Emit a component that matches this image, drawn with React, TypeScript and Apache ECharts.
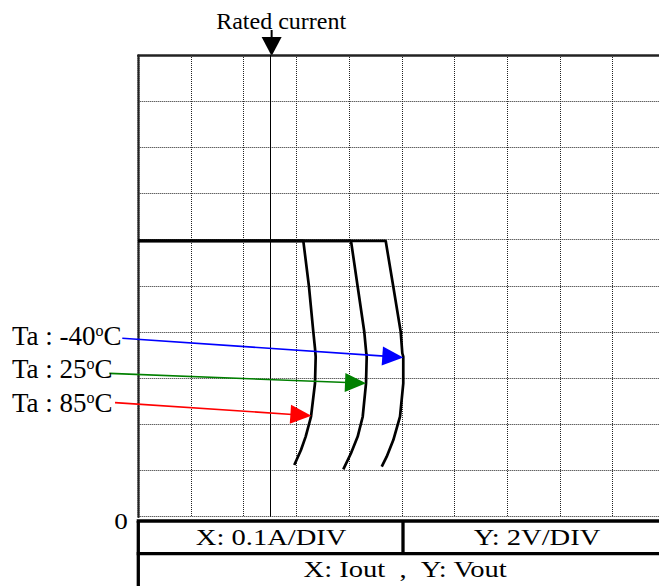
import React, { useEffect, useRef } from 'react';
import * as echarts from 'echarts';

const FONT = '"Liberation Serif", "Times New Roman", serif';

// Axis scale: X 0.1 A/DIV, Y 2 V/DIV
const xDivision = 0.1;
const yDivision = 2;
const xMax = 1.0;
const yMax = 20;

const ratedCurrent = 0.253;
const flatVoltage = 11.95;

// Iout (A), Vout (V) for each ambient temperature
const curveMinus40: number[][] = [
  [0.4694, 11.95], [0.4839, 9.96], [0.4979, 8.01], [0.501, 7.08], [0.5028, 6.93],
  [0.5028, 5.78], [0.4966, 4.33], [0.4839, 3.32], [0.4713, 2.6], [0.4619, 2.17],
];
const curve25: number[][] = [
  [0.4036, 11.95], [0.4163, 9.96], [0.4288, 8.01], [0.4326, 7.08], [0.4334, 6.93],
  [0.4321, 5.78], [0.4258, 4.33], [0.4163, 3.47], [0.4036, 2.75], [0.389, 2.05],
];
const curve85: number[][] = [
  [0.3131, 11.95], [0.3239, 9.96], [0.3321, 8.01], [0.3353, 7.29], [0.3366, 6.93],
  [0.3353, 5.78], [0.3277, 4.33], [0.3176, 3.47], [0.3087, 2.89], [0.296, 2.24],
];

const tempLabels = ['-40', '25', '85'];
const arrowColors = ['#0000ff', '#008000', '#ff0000'];
// arrow start (near label) and tip (on curve), in data coordinates
const arrowStarts: number[][] = [[-0.0304, 7.73], [-0.055, 6.21], [-0.0442, 4.94]];
const arrowTips: number[][] = [[0.5028, 6.9], [0.4321, 5.78], [0.3284, 4.375]];

const xAxisText = 'X: 0.1A/DIV';
const yAxisText = 'Y: 2V/DIV';
const axesText = 'X: Iout\u00a0\u00a0,\u00a0\u00a0Y: Vout';

export default function App() {
  const ref = useRef<HTMLDivElement>(null);

  useEffect(() => {
    document.body.style.margin = '0';
    const chart = echarts.init(ref.current!, null, { renderer: 'svg' });

    const withFlat = (c: number[][]) => [[0, flatVoltage], ...c];
    const curves = [curveMinus40, curve25, curve85];

    const gridLine = { show: true, lineStyle: { color: '#222', width: 1, type: [1, 1] as any } };

    chart.setOption({
      animation: false,
      backgroundColor: '#ffffff',
      grid: { left: 138.3, top: 55, width: 527, height: 461.7, outerBoundsMode: 'none' },
      xAxis: [
        {
          type: 'value', min: 0, max: xMax, interval: xDivision,
          axisLine: { show: false }, axisTick: { show: false }, axisLabel: { show: false },
          splitLine: gridLine,
        },
        {
          type: 'value', position: 'top', min: 0, max: xMax, interval: xDivision,
          axisLine: { show: true, lineStyle: { color: '#222', width: 2.5, type: [1, 1] } },
          axisTick: { show: false }, axisLabel: { show: false }, splitLine: { show: false },
        },
      ],
      yAxis: {
        type: 'value', min: 0, max: yMax, interval: yDivision,
        axisLine: { show: true, lineStyle: { color: '#222', width: 2.5, type: [1, 1] } },
        axisTick: { show: false }, axisLabel: { show: false },
        splitLine: gridLine,
      },
      series: curves.map((c, i) => ({
        type: 'line',
        name: tempLabels[i],
        data: withFlat(c),
        showSymbol: false,
        symbol: 'none',
        smooth: false,
        lineStyle: { color: '#000', width: 2.7 },
        clip: false,
        z: 3,
        markLine: i === 0 ? {
          silent: true,
          symbol: ['none', 'none'],
          label: { show: false },
          lineStyle: { color: '#000', width: 1, type: 'solid' },
          data: [{ xAxis: ratedCurrent }],
        } : undefined,
      })),
    });

    const px = (x: number, y: number) => chart.convertToPixel({ gridIndex: 0 }, [x, y]) as number[];
    const graphics: any[] = [];

    // Rated current arrow and label
    const [rx, ry] = px(ratedCurrent, yMax);
    graphics.push({ type: 'line', shape: { x1: rx, y1: ry - 25, x2: rx, y2: ry - 16 }, style: { stroke: '#000', lineWidth: 2 } });
    graphics.push({ type: 'polygon', shape: { points: [[rx - 10, ry - 18], [rx + 10, ry - 18], [rx, ry + 1]] }, style: { fill: '#000' } });
    graphics.push({
      type: 'text', x: rx + 9.5, y: ry - 34,
      style: { text: 'Rated current', font: `24px ${FONT}`, fill: '#000', align: 'center', verticalAlign: 'middle' },
    });

    // Temperature arrows
    arrowStarts.forEach((s, i) => {
      const [sx, sy] = px(s[0], s[1]);
      const [tx, ty] = px(arrowTips[i][0], arrowTips[i][1]);
      const dx = tx - sx, dy = ty - sy;
      const len = Math.hypot(dx, dy);
      const ux = dx / len, uy = dy / len;
      const L = 21, W = 19;
      const bx = tx - ux * L, by = ty - uy * L;
      const nx = -uy, ny = ux;
      graphics.push({ type: 'line', z: 10, shape: { x1: sx, y1: sy, x2: bx + ux * 2, y2: by + uy * 2 }, style: { stroke: arrowColors[i], lineWidth: 1.6 } });
      graphics.push({
        type: 'polygon', z: 10,
        shape: { points: [[tx, ty], [bx + nx * W / 2, by + ny * W / 2], [bx - nx * W / 2, by - ny * W / 2]] },
        style: { fill: arrowColors[i] },
      });
    });

    // Temperature labels
    const labelY = [336, 369, 402.5];
    tempLabels.forEach((t, i) => {
      graphics.push({
        type: 'text', x: 12, y: labelY[i], z: 11,
        style: {
          text: `Ta : ${t}{s|o}C`,
          font: `27px ${FONT}`, fill: '#000', align: 'left', verticalAlign: 'middle',
          rich: { s: { fontSize: 16, fontFamily: FONT, fill: '#000', verticalAlign: 'top', lineHeight: 16 } },
        },
      });
    });

    // Origin label
    graphics.push({
      type: 'text', x: 121, y: 521, scaleX: 1.18,
      style: { text: '0', font: `23px ${FONT}`, fill: '#000', align: 'center', verticalAlign: 'middle' },
    });

    // Table under the graticule
    const tl = 138.3, tTop = 521, tMid = 553.7, tDiv = 403, tRight = 672;
    const thick = { stroke: '#000', lineWidth: 3.3 };
    graphics.push({ type: 'line', shape: { x1: tl - 1.6, y1: tTop, x2: 700, y2: tTop }, style: thick });
    graphics.push({ type: 'line', shape: { x1: tl - 1.6, y1: tMid, x2: 700, y2: tMid }, style: thick });
    graphics.push({ type: 'line', shape: { x1: tl, y1: tTop, x2: tl, y2: 600 }, style: thick });
    graphics.push({ type: 'line', shape: { x1: tDiv, y1: tTop, x2: tDiv, y2: tMid }, style: thick });
    const cellText = (text: string, cx: number, cy: number) => ({
      type: 'text', x: cx, y: cy, scaleX: 1.19,
      style: { text, font: `24px ${FONT}`, fill: '#000', align: 'center', verticalAlign: 'middle' },
    });
    graphics.push(cellText(xAxisText, (tl + tDiv) / 2 + 0.5, 537));
    graphics.push(cellText(yAxisText, (tDiv + tRight) / 2 - 0.5, 537));
    graphics.push(cellText(axesText, (tl + tRight) / 2, 569));

    chart.setOption({ graphic: graphics });

    return () => chart.dispose();
  }, []);

  return <div ref={ref} style={{ width: 659, height: 586 }} />;
}
